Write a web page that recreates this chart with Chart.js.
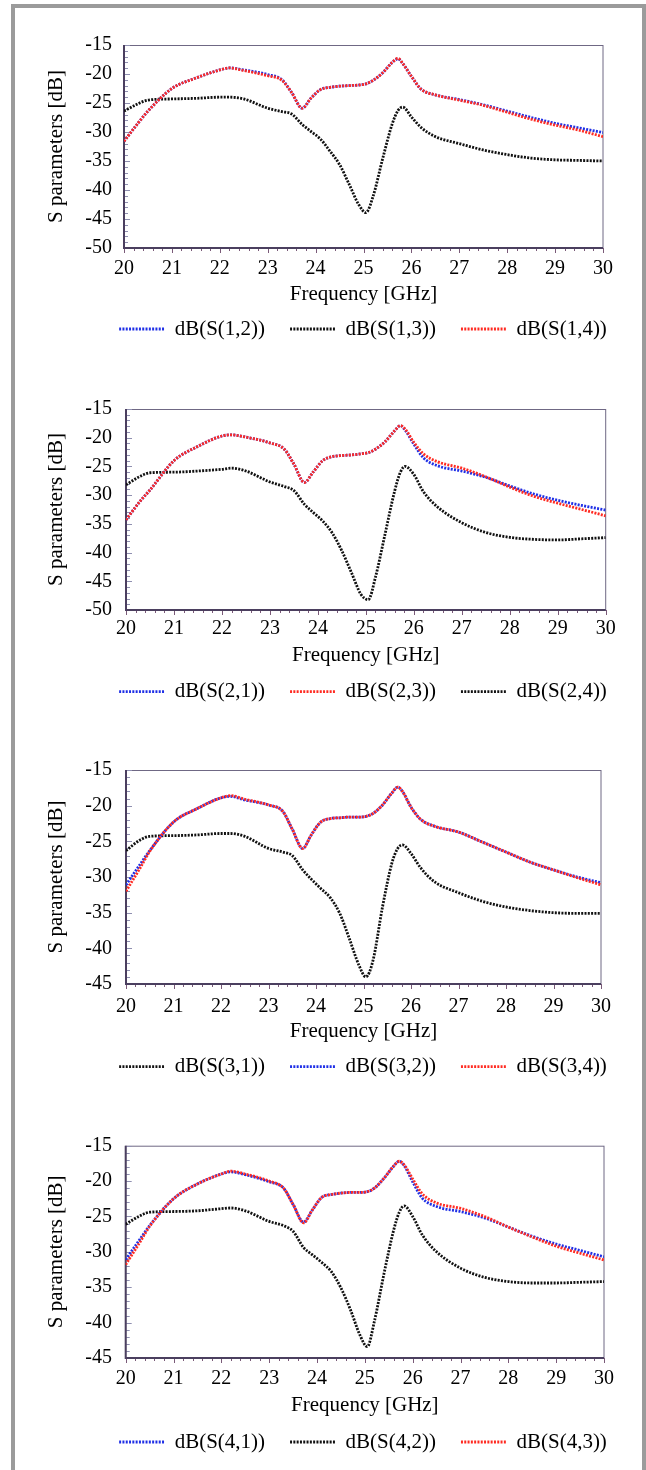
<!DOCTYPE html>
<html>
<head>
<meta charset="utf-8">
<script src="https://cdn.jsdelivr.net/npm/chart.js@4.4.1/dist/chart.umd.min.js"></script>
<style>
  html, body { margin: 0; padding: 0; background: #fff; overflow: hidden; }
  #page { position: relative; width: 646px; height: 1470px; }
  #box { position: absolute; left: 11px; top: 4px; width: 627px; height: 1470px;
         border: 4px solid #9b9b9b; border-bottom: none; }
  canvas { position: absolute; }
  #warm { position: absolute; left: -999px; top: 0; font: 20px "Liberation Serif"; }
</style>
</head>
<body>
<div id="page">
  <div id="box"></div>
  <span id="warm">Frequency [GHz] S parameters [dB] -15 20</span>
  <canvas id="c1"></canvas>
  <canvas id="c2"></canvas>
  <canvas id="c3"></canvas>
  <canvas id="c4"></canvas>
</div>
<script>
// frequency points (GHz) shared by every curve
const freq = [20, 20.3, 20.5, 21, 21.5, 22, 22.2, 22.5, 23, 23.3, 23.5, 23.72, 23.9, 24.1, 24.3, 24.5, 24.7,
  24.9, 25.05, 25.2, 25.4, 25.6, 25.72, 25.82, 26, 26.2, 26.5, 27, 27.5, 28, 28.5, 29, 29.5, 30];

// port 1
const s12 = [-31.6, -28.4, -26.4, -22.5, -20.7, -19.3, -18.95, -19.3, -20.1, -21.0, -23.2, -25.9, -24.2, -22.7, -22.3, -22.1, -22.0,
  -21.9, -21.7, -21.1, -19.8, -18.0, -17.4, -18.2, -20.4, -22.6, -23.6, -24.4, -25.3, -26.4, -27.5, -28.5, -29.3, -30.1];
const s13 = [-26.4, -25.1, -24.5, -24.3, -24.2, -24.0, -24.0, -24.3, -25.9, -26.5, -26.9, -28.7, -29.9, -31.2, -33.3, -35.6, -39.0,
  -42.5, -43.9, -41.1, -34.6, -28.6, -26.3, -25.7, -27.4, -29.2, -30.8, -32.0, -33.1, -33.9, -34.5, -34.8, -34.9, -35.0];
const s14 = [-31.6, -28.4, -26.4, -22.5, -20.7, -19.3, -18.95, -19.4, -20.3, -21.1, -23.2, -25.9, -24.2, -22.7, -22.3, -22.1, -22.0,
  -21.9, -21.7, -21.1, -19.8, -18.0, -17.3, -18.2, -20.4, -22.6, -23.6, -24.5, -25.4, -26.6, -27.8, -28.8, -29.7, -30.8];

// port 2
const s21 = [-34.3, -31.0, -29.1, -24.0, -21.5, -19.7, -19.5, -19.9, -20.9, -22.0, -24.6, -27.8, -26.0, -24.0, -23.3, -23.1, -23.0,
  -22.8, -22.6, -22.0, -20.7, -18.8, -17.9, -18.7, -21.1, -23.5, -24.9, -25.8, -26.9, -28.4, -29.8, -30.9, -31.8, -32.6];
const s23 = [-34.3, -31.0, -29.1, -24.0, -21.5, -19.7, -19.5, -19.9, -20.9, -22.0, -24.6, -27.8, -26.0, -24.0, -23.3, -23.1, -23.0,
  -22.8, -22.6, -22.0, -20.7, -18.8, -17.9, -18.5, -20.8, -22.8, -24.2, -25.3, -26.8, -28.6, -30.2, -31.4, -32.5, -33.6];
const s24 = [-28.2, -26.7, -26.1, -26.0, -25.8, -25.5, -25.3, -25.8, -27.7, -28.5, -29.2, -31.6, -33.0, -34.5, -36.6, -39.7, -43.5,
  -47.3, -48.2, -44.3, -36.8, -29.3, -26.0, -25.0, -26.4, -29.4, -32.1, -34.8, -36.5, -37.35, -37.7, -37.8, -37.6, -37.4];

// port 3
const s31 = [-26.3, -24.8, -24.3, -24.2, -24.1, -23.9, -23.9, -24.3, -26.0, -26.5, -27.0, -29.0, -30.3, -31.6, -32.9, -35.1, -38.6,
  -42.3, -44.0, -41.7, -34.2, -28.0, -26.0, -25.5, -26.7, -28.7, -30.7, -32.2, -33.4, -34.2, -34.7, -35.0, -35.1, -35.1];
const s32 = [-31.1, -28.2, -26.3, -22.3, -20.4, -18.9, -18.7, -19.2, -19.9, -20.8, -23.3, -26.0, -24.1, -22.3, -21.8, -21.7, -21.6,
  -21.6, -21.5, -21.1, -19.9, -18.2, -17.4, -18.0, -20.2, -21.9, -22.9, -23.7, -25.1, -26.5, -27.9, -29.0, -30.0, -30.8];
const s34 = [-32.0, -28.7, -26.4, -22.3, -20.4, -18.9, -18.6, -19.1, -19.9, -20.8, -23.3, -26.0, -24.1, -22.3, -21.8, -21.7, -21.6,
  -21.6, -21.5, -21.1, -19.9, -18.2, -17.4, -18.0, -20.2, -21.9, -22.9, -23.7, -25.1, -26.5, -27.9, -29.0, -30.1, -31.1];

// port 4
const s41 = [-31.1, -28.2, -26.3, -22.5, -20.4, -19.0, -18.7, -19.1, -20.1, -21.0, -23.3, -25.8, -24.1, -22.3, -21.9, -21.7, -21.6,
  -21.6, -21.5, -21.0, -19.6, -17.9, -17.2, -17.8, -20.1, -22.4, -23.6, -24.3, -25.2, -26.5, -27.8, -28.9, -29.8, -30.7];
const s42 = [-26.1, -24.9, -24.4, -24.3, -24.2, -23.9, -23.8, -24.2, -25.7, -26.3, -27.1, -29.4, -30.4, -31.5, -32.8, -35.1, -38.2,
  -41.8, -43.4, -39.8, -33.1, -27.0, -24.4, -23.5, -25.0, -27.6, -30.0, -32.3, -33.6, -34.2, -34.4, -34.4, -34.3, -34.2];
const s43 = [-31.8, -28.6, -26.4, -22.5, -20.4, -19.0, -18.6, -19.0, -20.0, -21.0, -23.3, -25.9, -24.1, -22.3, -21.9, -21.7, -21.6,
  -21.6, -21.5, -21.0, -19.6, -17.9, -17.2, -17.7, -19.7, -21.8, -23.1, -23.85, -25.0, -26.5, -27.9, -29.2, -30.2, -31.15];

// axis ranges
const xRange = [20, 30];
const yRanges = [[-50, -15], [-50, -15], [-45, -15], [-45, -15]];

const BLUE = '#1f2fe6';
const RED = '#ff2b22';
const BLACK = '#111111';
const DASH = [2, 1.3];
const LINE_W = 2.8;

Chart.defaults.font.family = "'Liberation Serif', 'Times New Roman', Times, serif";
Chart.defaults.color = '#000';

// page geometry of each plot box (left, right, top, bottom) and text offsets
const panels = [
  { id: 'c1', box: [124, 603, 33, 248], tickPad: 8.5, titleOff: 46, legendOff: 81,
    series: [['dB(S(1,2))', s12, BLUE, 1], ['dB(S(1,3))', s13, BLACK, 2], ['dB(S(1,4))', s14, RED, 0]] },
  { id: 'c2', box: [126, 605.7, 395, 610], tickPad: 7, titleOff: 45, legendOff: 81.7,
    series: [['dB(S(2,1))', s21, BLUE, 1], ['dB(S(2,3))', s23, RED, 0], ['dB(S(2,4))', s24, BLACK, 2]] },
  { id: 'c3', box: [126, 601, 756, 984], tickPad: 10.5, titleOff: 47.7, legendOff: 82.7,
    series: [['dB(S(3,1))', s31, BLACK, 2], ['dB(S(3,2))', s32, BLUE, 1], ['dB(S(3,4))', s34, RED, 0]] },
  { id: 'c4', box: [125.7, 604, 1132, 1358], tickPad: 9, titleOff: 47, legendOff: 84,
    series: [['dB(S(4,1))', s41, BLUE, 1], ['dB(S(4,2))', s42, BLACK, 2], ['dB(S(4,3))', s43, RED, 0]] }
];

const CANVAS_LEFT = 20, CANVAS_RIGHT = 643, PAD_TOP = 12, XAXIS_H = 60, LEGEND_H = 56;

// frame, axis lines and small tick marks like the simulator plot
const framePlugin = {
  id: 'frame',
  beforeDatasetsDraw(chart) {
    const { ctx, chartArea: a, scales: { x, y } } = chart;
    ctx.save();
    ctx.lineWidth = 1;
    ctx.strokeStyle = '#6f6884';
    ctx.strokeRect(a.left, a.top + 0.5, a.right - a.left, a.bottom - a.top);
    ctx.beginPath();
    for (let v = y.min; v <= y.max; v++) {
      const py = Math.round(y.getPixelForValue(v)) + 0.5;
      ctx.moveTo(a.left, py);
      ctx.lineTo(a.left + (v % 5 === 0 ? 6 : 4), py);
    }
    ctx.strokeStyle = '#8f8fb0';
    ctx.stroke();
    ctx.beginPath();
    for (let i = 0; i <= (x.max - x.min) * 5; i++) {
      const px = Math.round(x.getPixelForValue(x.min + i / 5)) + 0.5;
      ctx.moveTo(px, a.bottom);
      ctx.lineTo(px, a.bottom + (i % 5 === 0 ? 5 : 3));
    }
    ctx.strokeStyle = '#7a5a78';
    ctx.stroke();
    ctx.beginPath();
    ctx.lineWidth = 2;
    ctx.strokeStyle = '#4b3f5f';
    ctx.moveTo(a.left, a.top);
    ctx.lineTo(a.left, a.bottom);
    ctx.lineTo(a.right, a.bottom);
    ctx.stroke();
    ctx.restore();
  }
};

function drawPanel(p, k) {
  const [left, right, top, bottom] = p.box;
  const canvas = document.getElementById(p.id);
  canvas.width = CANVAS_RIGHT - CANVAS_LEFT;
  canvas.height = PAD_TOP + (bottom - top) + XAXIS_H + LEGEND_H;
  canvas.style.left = CANVAS_LEFT + 'px';
  canvas.style.top = (top - PAD_TOP) + 'px';

  // move the legend under the plot box, where the original has it
  const legendPlace = {
    id: 'legendPlace',
    afterLayout(chart) {
      const lg = chart.legend, a = chart.chartArea;
      const dx = (363 - CANVAS_LEFT) - (lg.left + lg.right) / 2;
      const dy = a.bottom + p.legendOff - (lg.top + 25 + 10.5);
      lg.left += dx; lg.right += dx;
      lg.top += dy; lg.bottom += dy;
    }
  };

  new Chart(canvas, {
    type: 'line',
    data: {
      datasets: p.series.map(([label, vals, color, order]) => ({
        label,
        data: freq.map((f, i) => ({ x: f, y: vals[i] })),
        borderColor: color,
        backgroundColor: color,
        borderWidth: LINE_W,
        borderDash: DASH,
        pointRadius: 0,
        cubicInterpolationMode: 'monotone',
        fill: false,
        order
      }))
    },
    options: {
      responsive: false,
      animation: false,
      layout: { padding: { top: PAD_TOP, left: 0, right: CANVAS_RIGHT - right, bottom: 0 } },
      scales: {
        x: {
          type: 'linear',
          min: xRange[0],
          max: xRange[1],
          grid: { display: false, drawTicks: false },
          border: { display: false },
          ticks: { stepSize: 1, padding: p.tickPad, font: { size: 20 }, color: '#000' },
          title: { display: true, text: 'Frequency [GHz]', font: { size: 21 }, color: '#000',
                   padding: { top: 0, bottom: XAXIS_H - p.titleOff - 12.6 } },
          afterFit: s => { s.height = XAXIS_H; }
        },
        y: {
          min: yRanges[k][0],
          max: yRanges[k][1],
          grid: { display: false, drawTicks: false },
          border: { display: false },
          ticks: { stepSize: 5, padding: left - 112, font: { size: 20 }, color: '#000' },
          title: { display: true, text: 'S parameters [dB]', font: { size: 21 }, color: '#000',
                   padding: { top: 24, bottom: 0 } },
          afterFit: s => { s.width = left - CANVAS_LEFT; }
        }
      },
      plugins: {
        legend: {
          position: 'bottom',
          labels: {
            usePointStyle: true,
            pointStyle: 'line',
            pointStyleWidth: 45,
            padding: 25,
            font: { size: 21 },
            color: '#000',
            sort: (a, b) => a.datasetIndex - b.datasetIndex,
            generateLabels: chart => Chart.defaults.plugins.legend.labels.generateLabels(chart)
              .map(item => Object.assign(item, { lineDash: DASH, lineWidth: LINE_W }))
          }
        },
        tooltip: { enabled: false }
      }
    },
    plugins: [framePlugin, legendPlace]
  });
}

document.fonts.load("20px 'Liberation Serif'").then(
  () => panels.forEach(drawPanel),
  () => panels.forEach(drawPanel)
);
</script>
</body>
</html>
